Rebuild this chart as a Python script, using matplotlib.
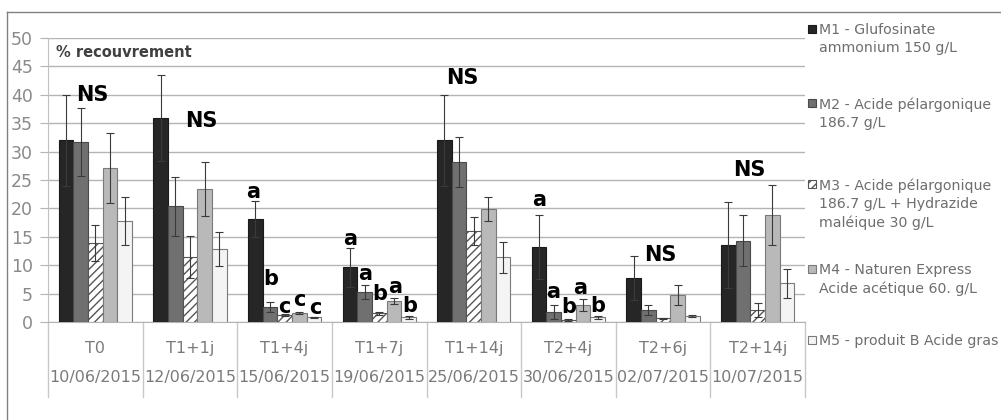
import matplotlib.pyplot as plt
from matplotlib.lines import Line2D
from matplotlib.patches import Rectangle
import numpy as np

plt.rcParams['font.family'] = ['DejaVu Sans']
plt.rcParams['hatch.linewidth'] = 1.0

# categories (two-level axis)
stages = ['T0', 'T1+1j', 'T1+4j', 'T1+7j', 'T1+14j', 'T2+4j', 'T2+6j', 'T2+14j']
dates = ['10/06/2015', '12/06/2015', '15/06/2015', '19/06/2015',
         '25/06/2015', '30/06/2015', '02/07/2015', '10/07/2015']

legend_labels = [
    'M1 - Glufosinate\nammonium 150 g/L',
    'M2 - Acide pélargonique\n186.7 g/L',
    'M3 - Acide pélargonique\n186.7 g/L + Hydrazide\nmaléique 30 g/L',
    'M4 - Naturen Express\nAcide acétique 60. g/L',
    'M5 - produit B Acide gras',
]

# % recouvrement per modality
m1 = [32.0, 35.9, 18.1, 9.6, 32.0, 13.2, 7.7, 13.6]
m2 = [31.7, 20.4, 2.7, 5.3, 28.2, 1.8, 2.1, 14.3]
m3 = [13.9, 11.4, 1.2, 1.5, 16.0, 0.35, 0.65, 2.1]
m4 = [27.1, 23.4, 1.6, 3.75, 19.9, 3.0, 4.75, 18.8]
m5 = [17.8, 12.8, 0.8, 0.8, 11.4, 0.8, 1.05, 6.8]

# standard errors
m1_err = [8.0, 7.6, 3.2, 3.4, 8.0, 5.6, 3.9, 7.6]
m2_err = [6.0, 5.2, 0.9, 1.2, 4.4, 1.2, 0.9, 4.5]
m3_err = [3.2, 3.7, 0.2, 0.3, 2.5, 0.1, 0.1, 1.2]
m4_err = [6.2, 4.8, 0.2, 0.55, 2.1, 1.0, 1.75, 5.3]
m5_err = [4.2, 3.0, 0.15, 0.2, 2.7, 0.2, 0.25, 2.5]

# significance letters: (x position in group units, y value, text)
letters = [(-0.03, 40.0, 'NS'), (1.12, 35.3, 'NS'),
           (1.665, 22.9, 'a'), (1.85, 7.6, 'b'), (1.995, 2.7, 'c'), (2.154, 3.9, 'c'), (2.32, 2.5, 'c'),
           (2.689, 14.7, 'a'), (2.847, 8.5, 'a'), (3.006, 5.0, 'b'), (3.164, 6.2, 'a'), (3.323, 2.8, 'b'),
           (3.875, 42.9, 'NS'),
           (4.688, 21.5, 'a'), (4.836, 5.3, 'a'), (5.0, 2.6, 'b'), (5.125, 5.9, 'a'), (5.315, 2.8, 'b'),
           (5.97, 11.8, 'NS'), (6.913, 26.8, 'NS')]

series = [m1, m2, m3, m4, m5]
errors = [m1_err, m2_err, m3_err, m4_err, m5_err]
faces = ['#262626', '#707070', 'white', '#b9b9b9', '#f4f4f4']
edges = ['#1a1a1a', '#4a4a4a', '#555555', '#7a7a7a', '#7a7a7a']
hatches = [None, None, '////', None, None]

fig = plt.figure(figsize=(10.01, 4.2), dpi=100)
ax = fig.add_axes([48 / 1001, 1 - 322 / 420, 757 / 1001, 284 / 420])

x = np.arange(len(stages))
w = 0.155
for k, (vals, err) in enumerate(zip(series, errors)):
    ax.bar(x + (k - 2) * w, vals, w, yerr=err, color=faces[k], edgecolor=edges[k],
           hatch=hatches[k], linewidth=0.8, zorder=3,
           error_kw=dict(ecolor='#3a3a3a', elinewidth=0.8, capsize=3, capthick=0.8, zorder=4))

for xp, yp, t in letters:
    ax.text(xp, yp, t, ha='center', va='center', fontsize=15, fontweight='bold',
            color='black', zorder=5)

ax.set_xlim(-0.5, len(stages) - 0.5)
ax.set_ylim(0, 50)
ax.set_yticks(range(0, 51, 5))
ax.yaxis.grid(True, color='#b4b4b4', linewidth=1, zorder=0)
ax.set_xticks([])
ax.tick_params(axis='y', length=5.8, color='#b4b4b4', pad=5, labelsize=12.5, labelcolor='#8a8a8a')
for s in ['top', 'right']:
    ax.spines[s].set_visible(False)
ax.spines['left'].set_color('#c0c0c0')
ax.spines['bottom'].set_color('#b4b4b4')

ax.text(0.01, 0.95, '% recouvrement', transform=ax.transAxes, fontsize=10.5,
        fontweight='bold', color='#404040', va='center', ha='left')

# two-level category labels
tr = ax.get_xaxis_transform()
for i in range(len(stages)):
    ax.text(i, -0.092, stages[i], transform=tr, ha='center', va='center',
            fontsize=11.5, color='#7a7a7a')
    ax.text(i, -0.197, dates[i], transform=tr, ha='center', va='center',
            fontsize=11.5, color='#7a7a7a')
for b in np.arange(-0.5, len(stages), 1.0):
    ax.plot([b, b], [0, -0.265], transform=tr, color='#c8c8c8', lw=1, clip_on=False)

# legend on the right, marker aligned with the first line
legend_y = [29, 103, 184, 269, 340]
for k, lab in enumerate(legend_labels):
    yf = 1 - legend_y[k] / 420
    fig.patches.append(Rectangle((808 / 1001, yf - 4 / 420), 8 / 1001, 8 / 420,
                                 transform=fig.transFigure, facecolor=faces[k],
                                 edgecolor=edges[k], hatch=hatches[k], linewidth=0.8))
    fig.text(819 / 1001, yf + 6 / 420, lab, fontsize=10.2, color='#6e6e6e',
             va='top', ha='left', linespacing=1.4)

# outer chart frame
fig.add_artist(Line2D([7 / 1001, 1], [1 - 12 / 420, 1 - 12 / 420], color='#808080', lw=1))
fig.add_artist(Line2D([7 / 1001, 7 / 1001], [0, 1 - 12 / 420], color='#808080', lw=1))

fig.savefig('out.png', dpi=100)
